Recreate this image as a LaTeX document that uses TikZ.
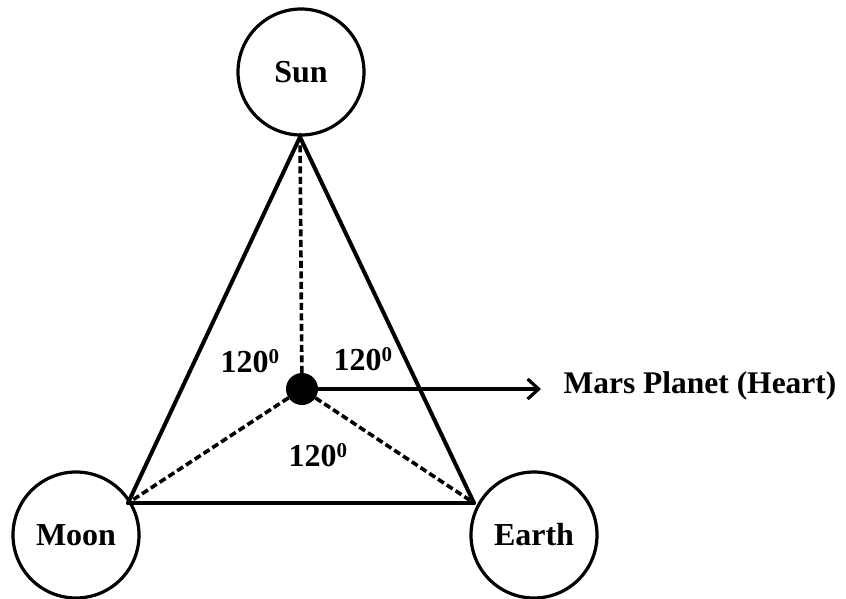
\documentclass[tikz,border=0pt]{standalone}
\usepackage{fontspec}
\setmainfont{Liberation Serif}
\usetikzlibrary{arrows.meta}
\tikzset{
  body/.style={circle,draw,line width=3.2pt,minimum size=126pt,inner sep=0pt,font=\fontsize{32}{34}\selectfont\bfseries},
  edge/.style={line width=4pt,line cap=round},
  dashline/.style={line width=3.6pt,dash pattern=on 7pt off 3.5pt},
  angl/.style={font=\fontsize{32}{34}\selectfont\bfseries,inner sep=0pt}
}
\newcommand{\mydeg}{\textsuperscript{\fontsize{21}{22}\selectfont 0}}
\begin{document}
\begin{tikzpicture}[x=1pt,y=-1pt]
\useasboundingbox (0,0) rectangle (846,598);
\node[body] (sun) at (301,72) {Sun};
\node[body] (moon) at (76,535) {Moon};
\node[body] (earth) at (534,535) {Earth};
\coordinate (ts) at (300,137);
\coordinate (tm) at (128,503);
\coordinate (te) at (474,503);
\node[circle,fill=black,minimum size=32pt,inner sep=0pt] (mars) at (302,389) {};
\draw[edge] (tm) -- (ts) -- (te);
\draw[edge] (tm) -- (te);
\draw[dashline] (mars) -- (ts);
\draw[dashline] (mars) -- (tm);
\draw[dashline] (mars) -- (te);
\coordinate (arrend) at (541,389);
\draw[line width=3.2pt,-{Straight Barb[length=11pt,width=20pt,line width=3.2pt]}] (mars) -- (arrend);
\node[font=\fontsize{31.5}{33}\selectfont\bfseries,anchor=west] (lbl) at (560,386) {Mars Planet (Heart)};
\node[angl] (a1) at (250,361) {120\mydeg};
\node[angl] (a2) at (363,359) {120\mydeg};
\node[angl] (a3) at (318,455) {120\mydeg};
\end{tikzpicture}
\end{document}
